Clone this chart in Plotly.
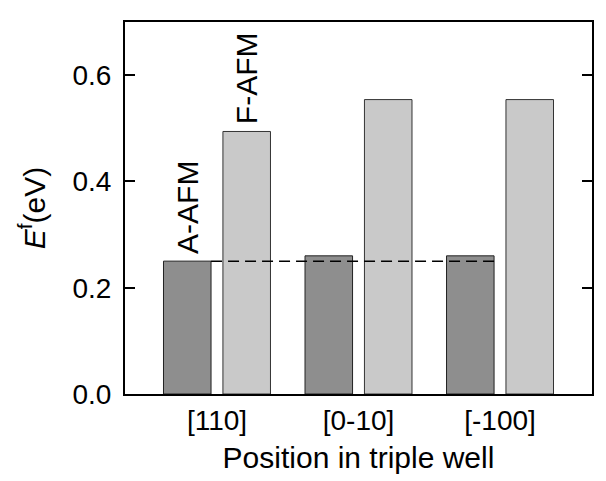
import plotly.graph_objects as go

categories = ["[110]", "[0-10]", "[-100]"]
a_afm = [0.250, 0.260, 0.260]
f_afm = [0.494, 0.554, 0.554]
series_names = ["A-AFM", "F-AFM"]
ref_level = a_afm[0]
y_ticks = [0.0, 0.2, 0.4, 0.6]
y_ticklabels = ["0.0", "0.2", "0.4", "0.6"]

BARGAP = 0.16
BARGROUPGAP = 0.2
FONT = "Liberation Sans, Arial, sans-serif"

xs = list(range(len(categories)))

fig = go.Figure()
fig.add_trace(go.Bar(x=xs, y=a_afm, name=series_names[0],
                     marker=dict(color="#8e8e8e", line=dict(color="#222222", width=1))))
fig.add_trace(go.Bar(x=xs, y=f_afm, name=series_names[1],
                     marker=dict(color="#c9c9c9", line=dict(color="#333333", width=1))))

# dashed reference line from right edge of first dark bar to right edge of last dark bar
slot = (1 - BARGAP) / 2
dark_right = -(1 - BARGAP) / 2 + slot - slot * BARGROUPGAP / 2
fig.add_trace(go.Scatter(x=[xs[0] + dark_right, xs[-1] + dark_right], y=[ref_level, ref_level],
                         mode="lines", line=dict(color="black", width=1.5, dash="11px,6px"),
                         showlegend=False, hoverinfo="skip"))

# rotated series labels above the first group
slot_center = slot / 2
fig.add_annotation(x=xs[0] - slot_center, y=a_afm[0], text=series_names[0], textangle=-90,
                   showarrow=False, yanchor="bottom", xanchor="center", yshift=5,
                   font=dict(family=FONT, size=30, color="black"))
fig.add_annotation(x=xs[0] + slot_center, y=f_afm[0], text=series_names[1], textangle=-90,
                   showarrow=False, yanchor="bottom", xanchor="center", yshift=5,
                   font=dict(family=FONT, size=30, color="black"))

fig.update_layout(
    width=606, height=481,
    margin=dict(l=125, r=14, t=22, b=80),
    paper_bgcolor="white", plot_bgcolor="white",
    barmode="group", bargap=BARGAP, bargroupgap=BARGROUPGAP,
    showlegend=False,
    font=dict(family=FONT, size=28, color="black"),
)
fig.update_xaxes(range=[-0.65, 2.65], tickvals=xs, ticktext=categories,
                 showline=True, linecolor="black", linewidth=2, mirror=True,
                 ticks="", showgrid=False, zeroline=False,
                 title=dict(text="Position in triple well", font=dict(size=30), standoff=12),
                 tickfont=dict(size=28))
fig.update_yaxes(range=[0, 0.7], tickvals=y_ticks, ticktext=y_ticklabels,
                 showline=True, linecolor="black", linewidth=2, mirror="ticks",
                 ticks="inside", ticklen=10, tickwidth=1.5, tickcolor="black",
                 ticklabelstandoff=6,
                 showgrid=False, zeroline=False,
                 title=dict(text="<i>E</i><sup>f</sup>(eV)", font=dict(size=30), standoff=18),
                 tickfont=dict(size=28))

fig.write_html("out.html", config={"displayModeBar": False},
               post_script="document.body.style.margin='0px';document.body.style.overflow='hidden';")
